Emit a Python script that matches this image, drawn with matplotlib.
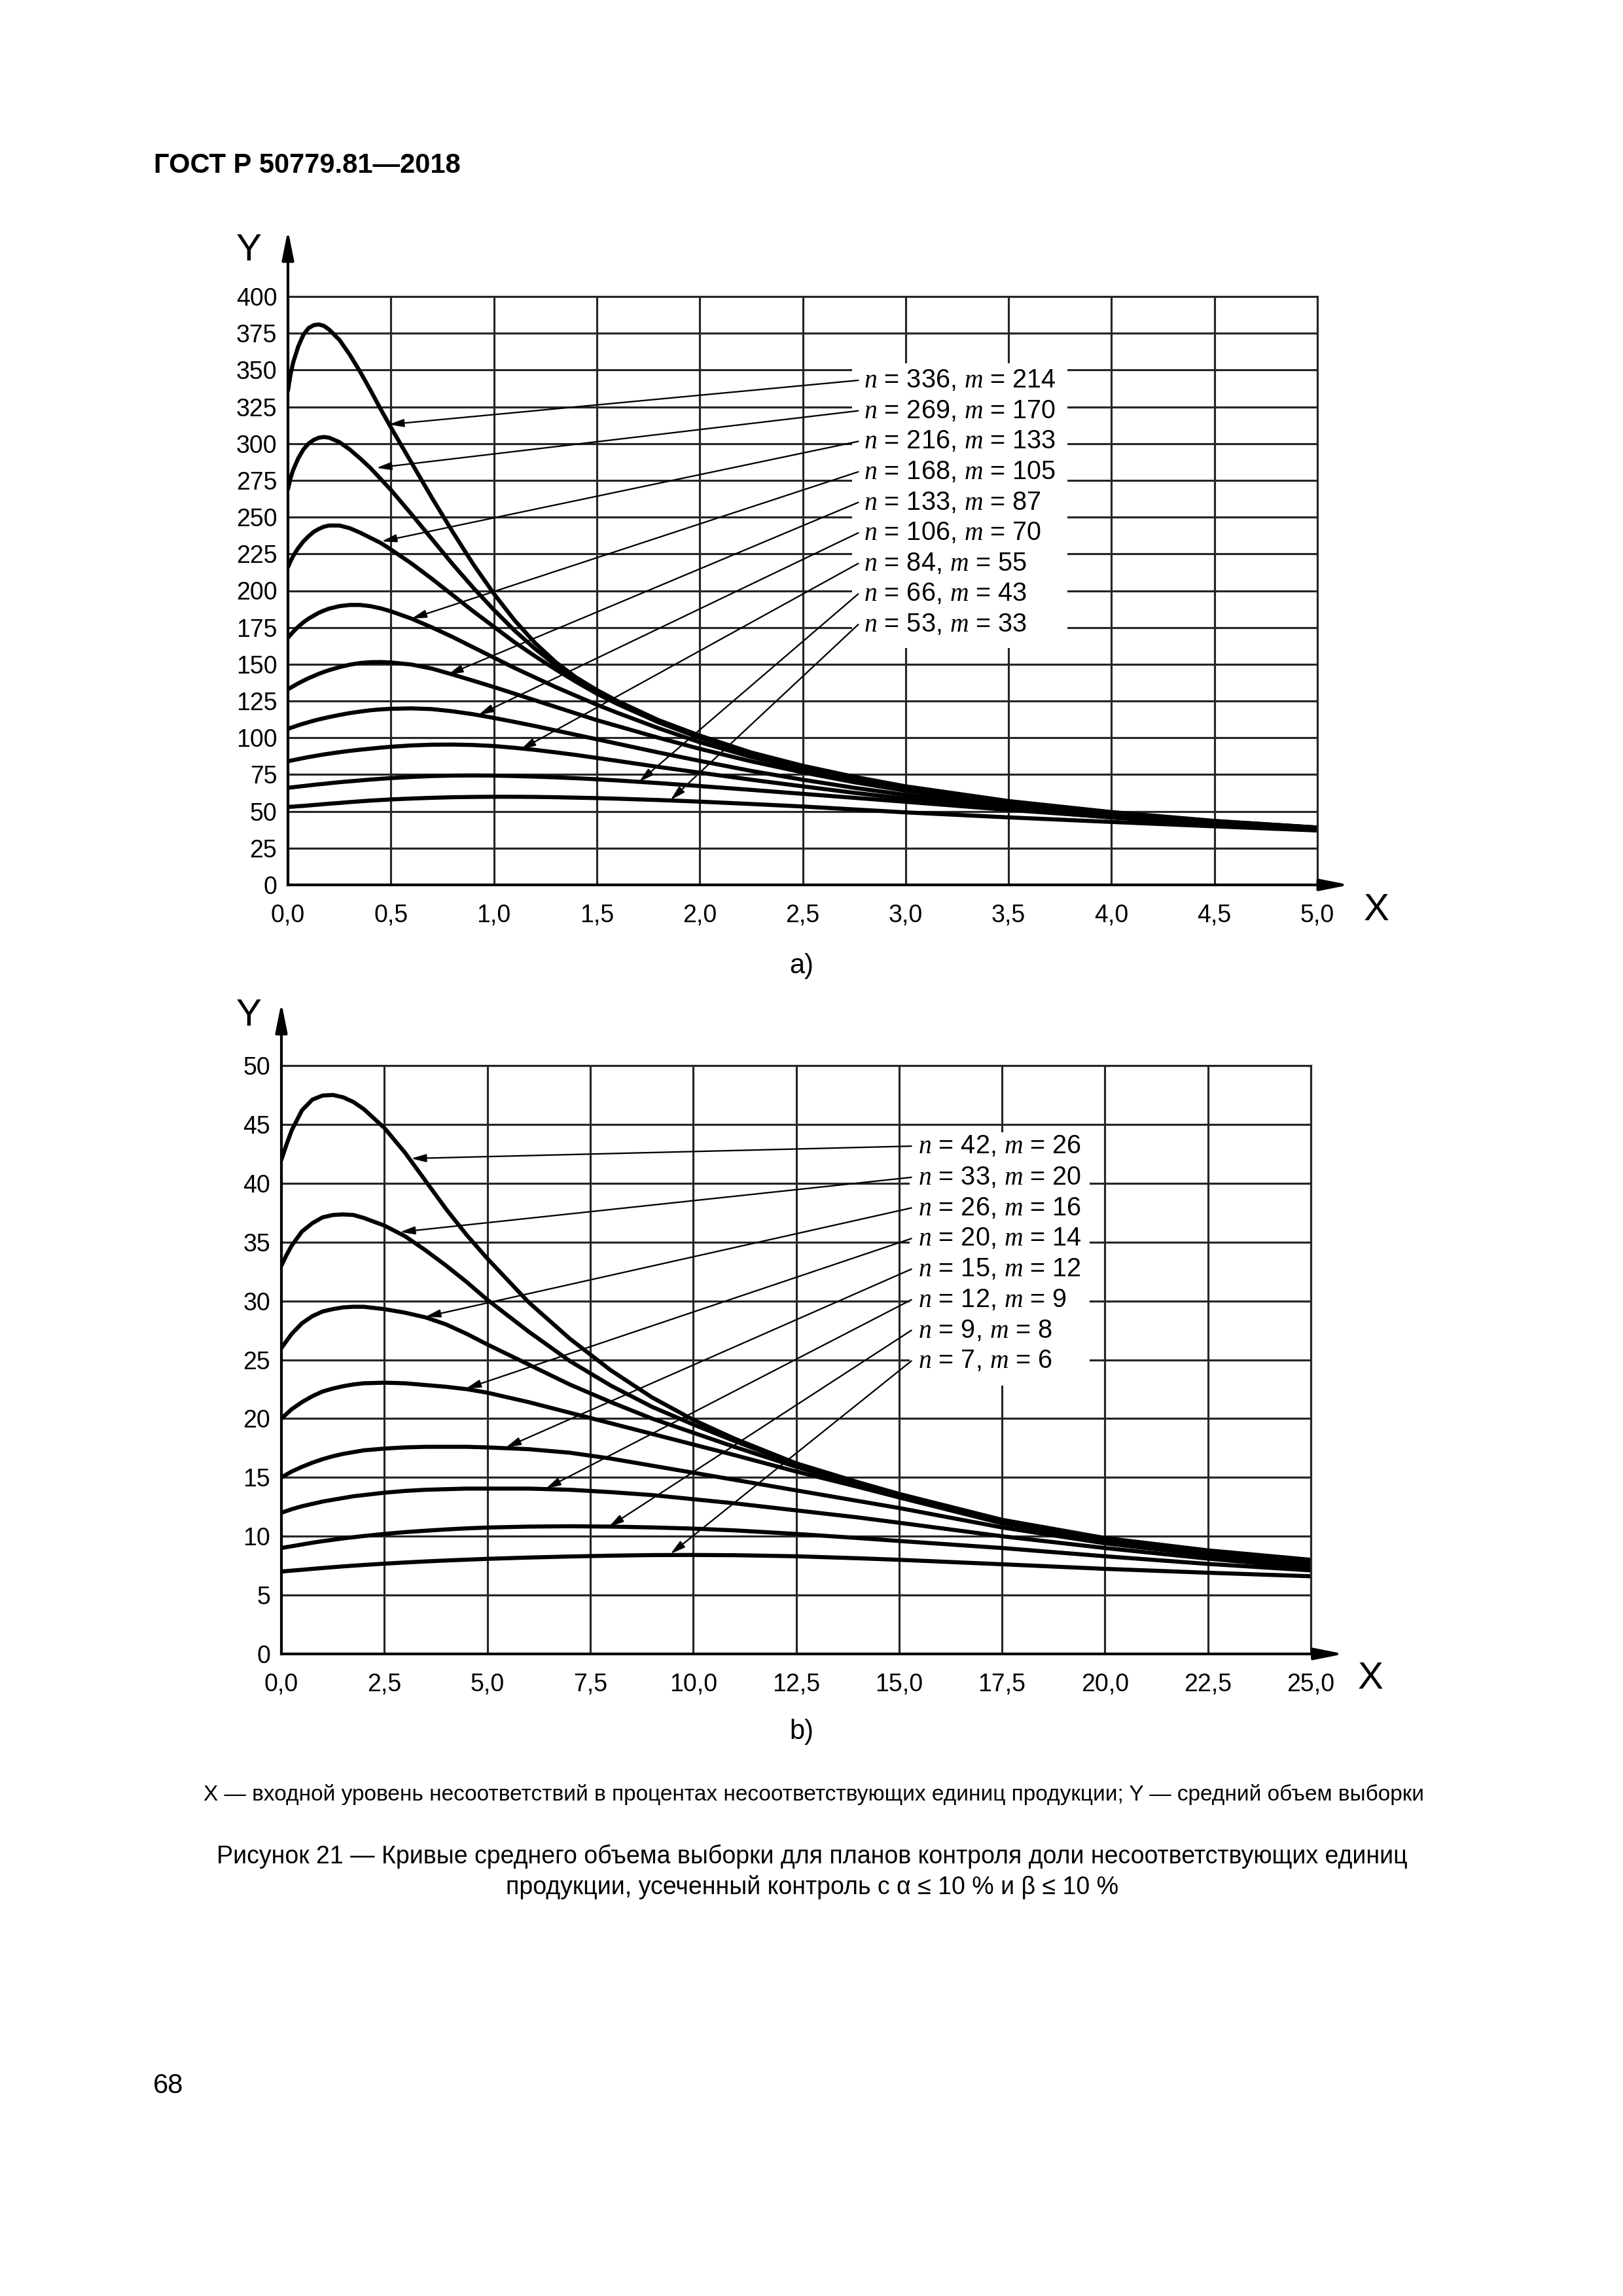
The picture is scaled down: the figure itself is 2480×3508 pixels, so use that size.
import matplotlib
matplotlib.use('Agg')
import matplotlib.pyplot as plt
from matplotlib.patches import Rectangle

plt.rcParams['font.family'] = ['Liberation Sans', 'DejaVu Sans']
plt.rcParams['mathtext.fontset'] = 'custom'
plt.rcParams['mathtext.it'] = 'Liberation Serif:italic'
plt.rcParams['mathtext.rm'] = 'Liberation Sans'

# ---- panel a) data (read from the figure) ----
xa = [0, 0.0125, 0.025, 0.05, 0.075, 0.1, 0.125, 0.15, 0.175, 0.2, 0.25, 0.3, 0.35,
      0.4, 0.45, 0.5, 0.6, 0.7, 0.8, 0.9, 1.0, 1.1, 1.2, 1.3, 1.4, 1.5, 1.6, 1.8,
      2.0, 2.25, 2.5, 2.75, 3.0, 3.5, 4.0, 4.5, 5.0]
ya_336 = [336, 347, 355, 366, 374, 378.5, 380.5, 381, 380, 377.5, 370.5, 360.5, 349,
          336.5, 323.5, 311, 287, 263, 240, 218, 198, 180, 164.5, 151.5, 141, 132.5, 125, 112,
          101.5, 90, 81, 73.5, 67, 57, 49.5, 43.5, 39]
ya_269 = [269, 276.5, 282, 290, 296, 300, 302.5, 304, 304.5, 304, 301, 296, 290,
          283.5, 276, 268.5, 252, 235, 218, 202, 187, 173, 160.5, 149.5, 139.5, 131.5, 124, 111.5,
          101, 89.5, 80.5, 73, 66.5, 56.5, 49, 43.3, 39]
ya_216 = [216, 220, 223.5, 229, 233.5, 237, 240, 242, 243.5, 244.3, 244.3, 242.5, 239.5,
          236, 232.5, 228, 218.5, 208, 197, 186, 175.5, 165, 155.5, 146.5, 138, 130, 123, 110.5,
          100, 89, 80, 72.5, 66, 56, 48.7, 43, 38.8]
ya_168 = [168, 170, 172, 175.5, 178.5, 181, 183, 185, 186.5, 187.8, 189.5, 190.3, 190.3,
          189.5, 188, 186, 181, 175, 168.5, 161.5, 154.5, 147.5, 141, 134.5, 128.5, 122.5, 117, 106.5,
          97, 87, 78.5, 71.5, 65.3, 55.5, 48.2, 42.8, 38.5]
ya_133 = [133, 134, 135, 137, 138.8, 140.5, 142, 143.5, 144.8, 146, 148, 149.7, 150.8,
          151.4, 151.5, 151.2, 149.8, 147, 143, 138.8, 134.5, 130, 125.5, 121, 116.5, 112, 108, 100,
          92.5, 84, 76.5, 69.8, 64, 54.7, 47.7, 42.4, 38.3]
ya_106 = [106, 106.7, 107.3, 108.5, 109.6, 110.6, 111.6, 112.5, 113.3, 114.1, 115.5, 116.8, 117.8,
          118.7, 119.3, 119.7, 120, 119.5, 118, 116, 113.5, 110.8, 108, 105, 102, 99, 96, 90,
          84.3, 77.5, 71.5, 66, 61.2, 53.2, 46.8, 41.8, 38]
ya_84 = [84, 84.4, 84.8, 85.5, 86.2, 86.9, 87.5, 88.1, 88.7, 89.2, 90.2, 91.1, 91.9,
         92.6, 93.3, 93.9, 94.8, 95.3, 95.4, 95.1, 94.4, 93.2, 91.8, 90.1, 88.3, 86.3, 84.3, 80.2,
         76.3, 71.5, 67, 62.6, 58.6, 51.6, 45.8, 41.2, 37.5]
ya_66 = [66, 66.2, 66.4, 66.8, 67.2, 67.6, 68, 68.4, 68.7, 69.1, 69.8, 70.4, 71,
         71.6, 72.1, 72.6, 73.4, 74, 74.3, 74.4, 74.3, 74, 73.6, 73.1, 72.5, 71.8, 71, 69.2,
         67.2, 64.6, 61.9, 59.2, 56.5, 51, 46, 41.4, 37.2]
ya_53 = [53, 53.1, 53.2, 53.5, 53.7, 54, 54.3, 54.6, 54.9, 55.2, 55.7, 56.3, 56.8,
         57.3, 57.7, 58.1, 58.7, 59.2, 59.6, 59.8, 59.9, 59.9, 59.8, 59.6, 59.3, 59, 58.6, 57.7,
         56.6, 55, 53.3, 51.3, 49.3, 45.9, 42.8, 39.8, 37]
labels_a = ['336', '269', '216', '168', '133', '106', '84', '66', '53']
labels_a_m = ['214', '170', '133', '105', '87', '70', '55', '43', '33']
tips_a_x = [0.49, 0.43, 0.455, 0.60, 0.777, 0.925, 1.13, 1.705, 1.858]
tips_a_y = [313, 283.5, 233.5, 181, 143, 115.5, 92, 70, 57.7]
text_a_y = [343, 322.3, 301.5, 280.8, 260, 239.3, 218.5, 197.8, 177]
xticks_a = [0, 0.5, 1.0, 1.5, 2.0, 2.5, 3.0, 3.5, 4.0, 4.5, 5.0]
xticklabels_a = ['0,0', '0,5', '1,0', '1,5', '2,0', '2,5', '3,0', '3,5', '4,0', '4,5', '5,0']
yticks_a = list(range(0, 401, 25))

# ---- panel b) data ----
xb = [0, 0.125, 0.25, 0.5, 0.75, 1.0, 1.25, 1.5, 1.75, 2.0, 2.5, 3.0, 3.5, 4.0, 4.5,
      5.0, 6, 7, 8, 9, 10, 11, 12.5, 14, 15, 17.5, 20, 22.5, 25]
yb_42 = [42, 43.3, 44.5, 46.2, 47.1, 47.45, 47.5, 47.3, 46.9, 46.3, 44.7, 42.6, 40.2, 37.8, 35.6,
         33.6, 29.9, 26.8, 24.1, 21.8, 19.9, 18.3, 16.2, 14.6, 13.6, 11.4, 9.85, 8.8, 8.0]
yb_33 = [33, 33.9, 34.7, 35.9, 36.6, 37.1, 37.3, 37.35, 37.3, 37.05, 36.4, 35.5, 34.3, 33.0, 31.6,
         30.1, 27.4, 24.9, 22.8, 21.0, 19.5, 18.1, 16.1, 14.5, 13.5, 11.35, 9.8, 8.75, 7.95]
yb_26 = [26, 26.6, 27.2, 28.1, 28.7, 29.1, 29.3, 29.45, 29.5, 29.5, 29.3, 29.0, 28.6, 28.0, 27.2,
         26.3, 24.6, 22.9, 21.4, 20.0, 18.8, 17.6, 15.9, 14.4, 13.4, 11.25, 9.75, 8.7, 7.9]
yb_20 = [20, 20.4, 20.8, 21.4, 21.9, 22.3, 22.55, 22.75, 22.9, 23.0, 23.05, 23.0, 22.85, 22.7, 22.5,
         22.2, 21.4, 20.5, 19.6, 18.7, 17.8, 16.9, 15.5, 14.2, 13.3, 11.1, 9.6, 8.6, 7.8]
yb_15 = [15, 15.25, 15.5, 15.9, 16.25, 16.55, 16.8, 17.0, 17.15, 17.3, 17.45, 17.55, 17.6, 17.6, 17.6,
         17.55, 17.4, 17.1, 16.6, 16.0, 15.4, 14.8, 13.9, 13.0, 12.4, 10.75, 9.4, 8.4, 7.55]
yb_12 = [12, 12.15, 12.3, 12.55, 12.75, 12.95, 13.1, 13.25, 13.4, 13.5, 13.7, 13.85, 13.95, 14.0, 14.05,
         14.05, 14.05, 13.95, 13.75, 13.5, 13.15, 12.8, 12.2, 11.6, 11.15, 10.0, 9.0, 8.1, 7.3]
yb_9 = [9, 9.08, 9.15, 9.3, 9.45, 9.58, 9.7, 9.82, 9.92, 10.02, 10.2, 10.35, 10.47, 10.58, 10.67,
        10.74, 10.82, 10.85, 10.82, 10.75, 10.65, 10.5, 10.2, 9.85, 9.6, 9.0, 8.3, 7.65, 7.1]
yb_7 = [7, 7.04, 7.08, 7.15, 7.23, 7.3, 7.37, 7.44, 7.5, 7.56, 7.67, 7.77, 7.86, 7.94, 8.01,
        8.08, 8.19, 8.28, 8.35, 8.4, 8.41, 8.39, 8.3, 8.13, 8.0, 7.62, 7.23, 6.9, 6.6]
labels_b = ['42', '33', '26', '20', '15', '12', '9', '7']
labels_b_m = ['26', '20', '16', '14', '12', '9', '8', '6']
tips_b_x = [3.15, 2.88, 3.5, 4.48, 5.45, 6.42, 7.95, 9.45]
tips_b_y = [42.1, 35.85, 28.65, 22.55, 17.55, 14.05, 10.8, 8.5]
text_b_y = [43.15, 40.5, 37.9, 35.3, 32.7, 30.1, 27.5, 24.9]
xticks_b = [0, 2.5, 5, 7.5, 10, 12.5, 15, 17.5, 20, 22.5, 25]
xticklabels_b = ['0,0', '2,5', '5,0', '7,5', '10,0', '12,5', '15,0', '17,5', '20,0', '22,5', '25,0']
yticks_b = list(range(0, 51, 5))

W, H = 2480, 3508
fig = plt.figure(figsize=(W / 300, H / 300), dpi=300)

GRID = '#262626'


def draw_panel(rect, xs, curves, ns, ms, tx, ty, text_x, text_y, arrow_x,
               xticks, xticklabels, yticks, box, arrow_top, arrow_right, ypos, xpos):
    ax = fig.add_axes(rect)
    ax.set_xlim(xticks[0], xticks[-1])
    ax.set_ylim(yticks[0], yticks[-1])
    ax.set_xticks(xticks)
    ax.set_xticklabels(xticklabels)
    ax.set_yticks(yticks)
    ax.tick_params(length=0, labelsize=9)
    ax.tick_params(axis='x', pad=7)
    ax.tick_params(axis='y', pad=4)
    ax.set_axisbelow(True)
    ax.grid(True, color=GRID, lw=0.75)
    for s in ['top', 'right']:
        ax.spines[s].set_color(GRID)
        ax.spines[s].set_linewidth(0.75)
    for s in ['left', 'bottom']:
        ax.spines[s].set_linewidth(1.0)
    # white field behind the curve labels
    ax.add_patch(Rectangle((box[0], box[1]), box[2] - box[0], box[3] - box[1],
                           facecolor='white', edgecolor='none', zorder=1))
    for ys in curves:
        ax.plot(xs, ys, color='black', lw=1.5, zorder=2,
                solid_capstyle='round', solid_joinstyle='round')
    for n, m, x1, y1, y0 in zip(ns, ms, tx, ty, text_y):
        ax.annotate('', xy=(x1, y1), xytext=(arrow_x, y0),
                    arrowprops=dict(arrowstyle='-|>,head_length=0.45,head_width=0.12',
                                    lw=0.55, color='black', shrinkA=0, shrinkB=0),
                    zorder=3)
        ax.text(text_x, y0, r'$n$ = %s, $m$ = %s' % (n, m), fontsize=9.5,
                ha='left', va='center', zorder=4)
    # axis arrows
    ax.annotate('', xy=(0, arrow_top), xytext=(0, 1.0), xycoords='axes fraction',
                arrowprops=dict(arrowstyle='-|>,head_length=0.9,head_width=0.18',
                                lw=1.0, color='black', shrinkA=0, shrinkB=0),
                annotation_clip=False)
    ax.annotate('', xy=(arrow_right, 0), xytext=(1.0, 0), xycoords='axes fraction',
                arrowprops=dict(arrowstyle='-|>,head_length=0.9,head_width=0.18',
                                lw=1.0, color='black', shrinkA=0, shrinkB=0),
                annotation_clip=False)
    ax.text(ypos[0], ypos[1], 'Y', transform=ax.transAxes, fontsize=14,
            ha='center', va='center')
    ax.text(xpos[0], xpos[1], 'X', transform=ax.transAxes, fontsize=14,
            ha='center', va='center')
    return ax


draw_panel([440 / W, 1 - 1352 / H, 1573 / W, 899 / H], xa,
           [ya_336, ya_269, ya_216, ya_168, ya_133, ya_106, ya_84, ya_66, ya_53],
           labels_a, labels_a_m, tips_a_x, tips_a_y, 2.797, text_a_y, 2.77,
           xticks_a, xticklabels_a, yticks_a, (2.74, 161, 3.786, 354.6),
           1.113, 1.031, (-0.038, 1.078), (1.057, -0.043))

draw_panel([430 / W, 1 - 2527 / H, 1573 / W, 899 / H], xb,
           [yb_42, yb_33, yb_26, yb_20, yb_15, yb_12, yb_9, yb_7],
           labels_b, labels_b_m, tips_b_x, tips_b_y, 15.46, text_b_y, 15.3,
           xticks_b, xticklabels_b, yticks_b, (15.26, 22.8, 19.63, 44.3),
           1.107, 1.032, (-0.032, 1.084), (1.058, -0.042))

fig.text(235 / W, 1 - 253 / H, 'ГОСТ Р 50779.81—2018', fontsize=10,
         fontweight='bold', ha='left', va='center')
fig.text(1225 / W, 1 - 1476 / H, 'a)', fontsize=10, ha='center', va='center')
fig.text(1225 / W, 1 - 2646 / H, 'b)', fontsize=10, ha='center', va='center')
fig.text(1243 / W, 1 - 2742 / H,
         'X — входной уровень несоответствий в процентах несоответствующих единиц '
         'продукции; Y — средний объем выборки',
         fontsize=8, ha='center', va='center')
fig.text(1241 / W, 1 - 2836 / H,
         'Рисунок 21 — Кривые среднего объема выборки для планов контроля доли '
         'несоответствующих единиц',
         fontsize=9, ha='center', va='center')
fig.text(1241 / W, 1 - 2883 / H,
         'продукции, усеченный контроль с α ≤ 10 % и β ≤ 10 %',
         fontsize=9, ha='center', va='center')
fig.text(257 / W, 1 - 3187 / H, '68', fontsize=10, ha='center', va='center')

fig.savefig('out.png', dpi=300, facecolor='white')
